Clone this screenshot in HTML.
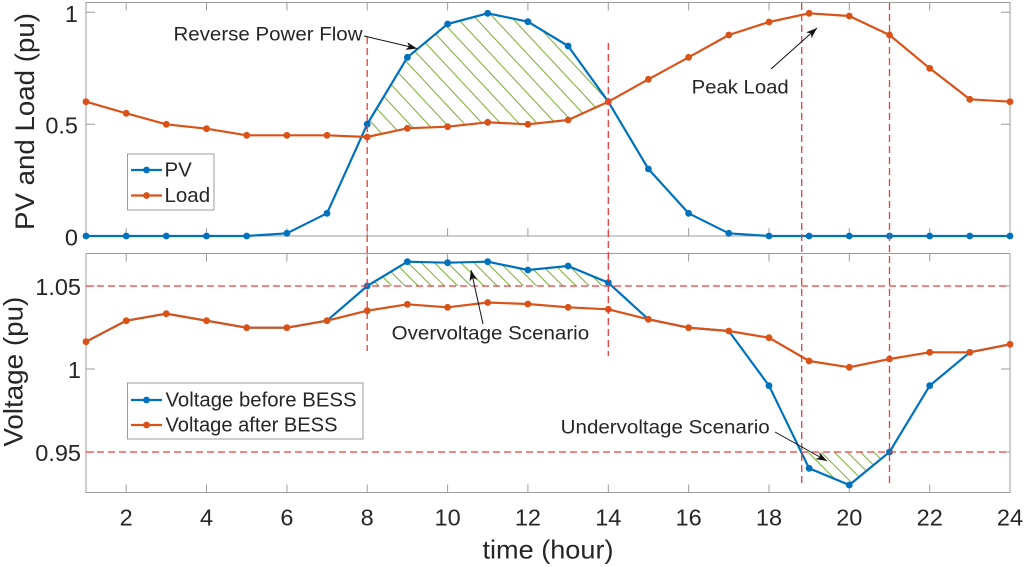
<!DOCTYPE html>
<html><head><meta charset="utf-8"><style>
html,body{margin:0;padding:0;background:#fff;}
svg{display:block;}
text{font-family:"Liberation Sans",Arial,sans-serif;fill:#262626;}
</style></head><body>
<svg width="1024" height="567" viewBox="0 0 1024 567" xmlns="http://www.w3.org/2000/svg">
<defs>
<pattern id="h1" patternUnits="userSpaceOnUse" width="13.4" height="13.4" patternTransform="rotate(-43)">
<line x1="0.5" y1="0" x2="0.5" y2="13.4" stroke="#80ad3c" stroke-width="1.1"/>
</pattern>
<pattern id="h2" patternUnits="userSpaceOnUse" width="9.3" height="9.3" patternTransform="rotate(-45)">
<line x1="0.5" y1="0" x2="0.5" y2="9.3" stroke="#80ad3c" stroke-width="1.1"/>
</pattern>
<marker id="ah" markerUnits="userSpaceOnUse" markerWidth="12" markerHeight="8" refX="11" refY="4" orient="auto">
<path d="M0,0 L11,4 L0,8 L3,4 Z" fill="#111"/>
</marker>
</defs>
<rect width="1024" height="567" fill="#fff"/>

<!-- ===== TOP AXES ===== -->
<!-- hatch -->
<polygon fill="url(#h1)" points="367.2,124.2 407.4,57.3 447.6,24 487.7,13.3 527.9,21.7 568.1,46 608.3,101.7 568.1,120 527.9,124.3 487.7,122.3 447.6,126.7 407.4,128.3 367.2,137"/>
<!-- box -->
<rect x="86" y="2.5" width="924" height="233.5" fill="none" stroke="#9c9c9c" stroke-width="1"/>
<!-- ticks -->
<g stroke="#9c9c9c" stroke-width="1">
<path d="M126.2,236v-8M206.5,236v-8M286.9,236v-8M367.2,236v-8M447.6,236v-8M527.9,236v-8M608.3,236v-8M688.6,236v-8M769,236v-8M849.3,236v-8M929.7,236v-8"/>
<path d="M126.2,2.5v8M206.5,2.5v8M286.9,2.5v8M367.2,2.5v8M447.6,2.5v8M527.9,2.5v8M608.3,2.5v8M688.6,2.5v8M769,2.5v8M849.3,2.5v8M929.7,2.5v8"/>
<path d="M86,124.2h9M86,12.3h9M1010,124.2h-9M1010,12.3h-9"/>
</g>
<!-- y tick labels -->
<g font-size="23.5" text-anchor="end">
<text x="78" y="22">1</text>
<text x="78" y="133.5">0.5</text>
<text x="78" y="245.5">0</text>
</g>
<text transform="translate(34,121.5) rotate(-90)" font-size="27" text-anchor="middle" textLength="217" lengthAdjust="spacingAndGlyphs">PV and Load (pu)</text>

<!-- PV -->
<polyline fill="none" stroke="#0072BD" stroke-width="2.2" stroke-linejoin="round" points="86,236 126.2,236 166.3,236 206.5,236 246.7,236 286.9,233.3 327,213.3 367.2,124.2 407.4,57.3 447.6,24 487.7,13.3 527.9,21.7 568.1,46 608.3,101.7 648.4,169 688.6,213.3 728.8,233.3 769,236 809.1,236 849.3,236 889.5,236 929.7,236 969.8,236 1010,236"/>
<g fill="#0072BD">
<circle cx="86" cy="236" r="3.4"/><circle cx="126.2" cy="236" r="3.4"/><circle cx="166.3" cy="236" r="3.4"/><circle cx="206.5" cy="236" r="3.4"/><circle cx="246.7" cy="236" r="3.4"/><circle cx="286.9" cy="233.3" r="3.4"/><circle cx="327" cy="213.3" r="3.4"/><circle cx="367.2" cy="124.2" r="3.4"/><circle cx="407.4" cy="57.3" r="3.4"/><circle cx="447.6" cy="24" r="3.4"/><circle cx="487.7" cy="13.3" r="3.4"/><circle cx="527.9" cy="21.7" r="3.4"/><circle cx="568.1" cy="46" r="3.4"/><circle cx="608.3" cy="101.7" r="3.4"/><circle cx="648.4" cy="169" r="3.4"/><circle cx="688.6" cy="213.3" r="3.4"/><circle cx="728.8" cy="233.3" r="3.4"/><circle cx="769" cy="236" r="3.4"/><circle cx="809.1" cy="236" r="3.4"/><circle cx="849.3" cy="236" r="3.4"/><circle cx="889.5" cy="236" r="3.4"/><circle cx="929.7" cy="236" r="3.4"/><circle cx="969.8" cy="236" r="3.4"/><circle cx="1010" cy="236" r="3.4"/>
</g>
<!-- Load -->
<polyline fill="none" stroke="#D95319" stroke-width="2.2" stroke-linejoin="round" points="86,101.7 126.2,113.3 166.3,124.3 206.5,128.7 246.7,135.3 286.9,135.3 327,135.3 367.2,137 407.4,128.3 447.6,126.7 487.7,122.3 527.9,124.3 568.1,120 608.3,101.7 648.4,79.3 688.6,57.3 728.8,35 769,22 809.1,13.3 849.3,16 889.5,35 929.7,68.3 969.8,99.3 1010,101.7"/>
<g fill="#D95319">
<circle cx="86" cy="101.7" r="3.4"/><circle cx="126.2" cy="113.3" r="3.4"/><circle cx="166.3" cy="124.3" r="3.4"/><circle cx="206.5" cy="128.7" r="3.4"/><circle cx="246.7" cy="135.3" r="3.4"/><circle cx="286.9" cy="135.3" r="3.4"/><circle cx="327" cy="135.3" r="3.4"/><circle cx="367.2" cy="137" r="3.4"/><circle cx="407.4" cy="128.3" r="3.4"/><circle cx="447.6" cy="126.7" r="3.4"/><circle cx="487.7" cy="122.3" r="3.4"/><circle cx="527.9" cy="124.3" r="3.4"/><circle cx="568.1" cy="120" r="3.4"/><circle cx="608.3" cy="101.7" r="3.4"/><circle cx="648.4" cy="79.3" r="3.4"/><circle cx="688.6" cy="57.3" r="3.4"/><circle cx="728.8" cy="35" r="3.4"/><circle cx="769" cy="22" r="3.4"/><circle cx="809.1" cy="13.3" r="3.4"/><circle cx="849.3" cy="16" r="3.4"/><circle cx="889.5" cy="35" r="3.4"/><circle cx="929.7" cy="68.3" r="3.4"/><circle cx="969.8" cy="99.3" r="3.4"/><circle cx="1010" cy="101.7" r="3.4"/>
</g>

<!-- top legend -->
<rect x="127.5" y="154" width="86.5" height="56" fill="#fff" stroke="#9c9c9c" stroke-width="1"/>
<line x1="131" y1="170" x2="162" y2="170" stroke="#0072BD" stroke-width="2.2"/>
<circle cx="146.5" cy="170" r="3.4" fill="#0072BD"/>
<line x1="131" y1="195.5" x2="162" y2="195.5" stroke="#D95319" stroke-width="2.2"/>
<circle cx="146.5" cy="195.5" r="3.4" fill="#D95319"/>
<text x="164.5" y="176.5" font-size="20.5" fill="#111">PV</text>
<text x="164.5" y="202" font-size="20.5" fill="#111">Load</text>

<!-- ===== BOTTOM AXES ===== -->
<polygon fill="url(#h2)" points="367.2,286 407.4,261.7 447.6,262.7 487.7,261.7 527.9,270 568.1,266 608.3,282.7 608.3,286"/>
<polygon fill="url(#h2)" points="801.7,452 809.1,468.3 849.3,485 889.5,452"/>
<rect x="86" y="253.5" width="924" height="239" fill="none" stroke="#9c9c9c" stroke-width="1"/>
<g stroke="#9c9c9c" stroke-width="1">
<path d="M126.2,492.5v-8M206.5,492.5v-8M286.9,492.5v-8M367.2,492.5v-8M447.6,492.5v-8M527.9,492.5v-8M608.3,492.5v-8M688.6,492.5v-8M769,492.5v-8M849.3,492.5v-8M929.7,492.5v-8"/>
<path d="M126.2,253.5v8M206.5,253.5v8M286.9,253.5v8M367.2,253.5v8M447.6,253.5v8M527.9,253.5v8M608.3,253.5v8M688.6,253.5v8M769,253.5v8M849.3,253.5v8M929.7,253.5v8"/>
<path d="M86,286h9M86,369h9M86,452h9M1010,286h-9M1010,369h-9M1010,452h-9"/>
</g>
<g font-size="23.5" text-anchor="end">
<text x="81" y="295">1.05</text>
<text x="81" y="378">1</text>
<text x="81" y="461">0.95</text>
</g>
<text transform="translate(22.5,371.7) rotate(-90)" font-size="27" text-anchor="middle" textLength="150" lengthAdjust="spacingAndGlyphs">Voltage (pu)</text>

<!-- x tick labels -->
<g font-size="23.5" text-anchor="middle">
<text x="126.2" y="525.5">2</text><text x="206.5" y="525.5">4</text><text x="286.9" y="525.5">6</text><text x="367.2" y="525.5">8</text><text x="447.6" y="525.5">10</text><text x="527.9" y="525.5">12</text><text x="608.3" y="525.5">14</text><text x="688.6" y="525.5">16</text><text x="769" y="525.5">18</text><text x="849.3" y="525.5">20</text><text x="929.7" y="525.5">22</text><text x="1010" y="525.5">24</text>
</g>
<text x="548" y="558.5" font-size="26" text-anchor="middle" textLength="131" lengthAdjust="spacingAndGlyphs">time (hour)</text>

<!-- voltage before -->
<polyline fill="none" stroke="#0072BD" stroke-width="2.2" stroke-linejoin="round" points="86,341.7 126.2,320.7 166.3,313.7 206.5,320.7 246.7,327.7 286.9,327.7 327,320.7 367.2,286 407.4,261.7 447.6,262.7 487.7,261.7 527.9,270 568.1,266 608.3,282.7 648.4,319.3 688.6,327.7 728.8,331 769,385.7 809.1,468.3 849.3,485 889.5,452 929.7,385.7 969.8,352.3 1010,344.3"/>
<g fill="#0072BD">
<circle cx="367.2" cy="286" r="3.4"/><circle cx="407.4" cy="261.7" r="3.4"/><circle cx="447.6" cy="262.7" r="3.4"/><circle cx="487.7" cy="261.7" r="3.4"/><circle cx="527.9" cy="270" r="3.4"/><circle cx="568.1" cy="266" r="3.4"/><circle cx="608.3" cy="282.7" r="3.4"/><circle cx="769" cy="385.7" r="3.4"/><circle cx="809.1" cy="468.3" r="3.4"/><circle cx="849.3" cy="485" r="3.4"/><circle cx="889.5" cy="452" r="3.4"/><circle cx="929.7" cy="385.7" r="3.4"/>
</g>
<!-- voltage after -->
<polyline fill="none" stroke="#D95319" stroke-width="2.2" stroke-linejoin="round" points="86,341.7 126.2,320.7 166.3,313.7 206.5,320.7 246.7,327.7 286.9,327.7 327,320.7 367.2,310.7 407.4,304.3 447.6,307.3 487.7,302.5 527.9,304 568.1,307.3 608.3,309.3 648.4,319.3 688.6,327.7 728.8,331 769,337.7 809.1,361 849.3,367.3 889.5,359 929.7,352.3 969.8,352.3 1010,344.3"/>
<g fill="#D95319">
<circle cx="86" cy="341.7" r="3.4"/><circle cx="126.2" cy="320.7" r="3.4"/><circle cx="166.3" cy="313.7" r="3.4"/><circle cx="206.5" cy="320.7" r="3.4"/><circle cx="246.7" cy="327.7" r="3.4"/><circle cx="286.9" cy="327.7" r="3.4"/><circle cx="327" cy="320.7" r="3.4"/><circle cx="367.2" cy="310.7" r="3.4"/><circle cx="407.4" cy="304.3" r="3.4"/><circle cx="447.6" cy="307.3" r="3.4"/><circle cx="487.7" cy="302.5" r="3.4"/><circle cx="527.9" cy="304" r="3.4"/><circle cx="568.1" cy="307.3" r="3.4"/><circle cx="608.3" cy="309.3" r="3.4"/><circle cx="648.4" cy="319.3" r="3.4"/><circle cx="688.6" cy="327.7" r="3.4"/><circle cx="728.8" cy="331" r="3.4"/><circle cx="769" cy="337.7" r="3.4"/><circle cx="809.1" cy="361" r="3.4"/><circle cx="849.3" cy="367.3" r="3.4"/><circle cx="889.5" cy="359" r="3.4"/><circle cx="929.7" cy="352.3" r="3.4"/><circle cx="969.8" cy="352.3" r="3.4"/><circle cx="1010" cy="344.3" r="3.4"/>
</g>

<!-- bottom legend -->
<rect x="127.5" y="383" width="235.5" height="56" fill="#fff" stroke="#9c9c9c" stroke-width="1"/>
<line x1="131" y1="400" x2="162" y2="400" stroke="#0072BD" stroke-width="2.2"/>
<circle cx="146.5" cy="400" r="3.4" fill="#0072BD"/>
<line x1="131" y1="425" x2="162" y2="425" stroke="#D95319" stroke-width="2.2"/>
<circle cx="146.5" cy="425" r="3.4" fill="#D95319"/>
<text x="165.5" y="406.7" font-size="20.5" fill="#111" textLength="191" lengthAdjust="spacingAndGlyphs">Voltage before BESS</text>
<text x="165.5" y="431.7" font-size="20.5" fill="#111" textLength="172" lengthAdjust="spacingAndGlyphs">Voltage after BESS</text>

<!-- red dashed reference lines -->
<g stroke="#f03a3a" stroke-width="1.3" stroke-dasharray="7,4" fill="none">
<line x1="86" y1="286" x2="1010" y2="286"/>
<line x1="86" y1="452" x2="1010" y2="452"/>
<line x1="367.2" y1="37" x2="367.2" y2="351"/>
<line x1="608.3" y1="43" x2="608.3" y2="356"/>
<line x1="801.7" y1="3" x2="801.7" y2="486"/>
<line x1="889.5" y1="3" x2="889.5" y2="486"/>
</g>

<!-- annotations -->
<g stroke="#111" stroke-width="1" fill="none">
<line x1="364" y1="36" x2="417" y2="48.5" marker-end="url(#ah)"/>
<line x1="771" y1="69" x2="817" y2="28" marker-end="url(#ah)"/>
<line x1="483" y1="324" x2="471" y2="270" marker-end="url(#ah)"/>
<line x1="775" y1="432" x2="827" y2="461" marker-end="url(#ah)"/>
</g>
<g font-size="19.5" fill="#111">
<text x="173.5" y="40.7" textLength="189" lengthAdjust="spacingAndGlyphs">Reverse Power Flow</text>
<text x="691.7" y="93.3" textLength="97" lengthAdjust="spacingAndGlyphs">Peak Load</text>
<text x="391.7" y="339.3" textLength="197.5" lengthAdjust="spacingAndGlyphs">Overvoltage Scenario</text>
<text x="560.7" y="433.3" textLength="209" lengthAdjust="spacingAndGlyphs">Undervoltage Scenario</text>
</g>
</svg>
</body></html>
